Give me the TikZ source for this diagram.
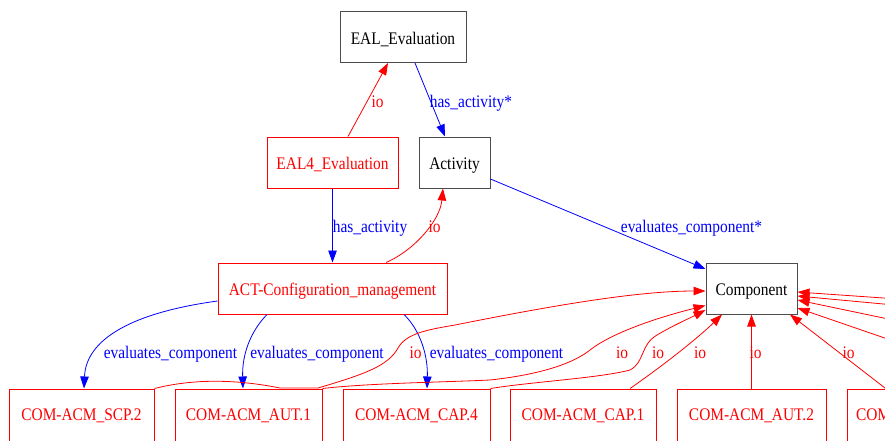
\documentclass[tikz,border=0pt]{standalone}
\usepackage{fontspec}
\setmainfont[FakeStretch=0.87]{Liberation Serif}
\usetikzlibrary{arrows.meta}
\begin{document}
\begin{tikzpicture}[x=1pt,y=-1pt,
  >={Triangle[length=12pt,width=8.5pt]},
  every node/.style={font=\fontsize{17.7}{20}\selectfont, inner sep=0pt},
  kbox/.style={draw=black!70, line width=1pt, minimum height=51pt, text height=14pt, text depth=0pt, text=black},
  rbox/.style={draw=red, line width=1pt, minimum height=51pt, text height=14pt, text depth=0pt, text=red},
  bbox/.style={draw=red, line width=1pt, minimum height=56pt, text height=6pt, text depth=0pt, text=red},
  bedge/.style={draw=blue, line width=0.8pt, ->},
  redge/.style={draw=red, line width=0.8pt, ->},
  blbl/.style={anchor=base, text=blue},
  rlbl/.style={anchor=base, text=red}]
\fill[white] (0,0) rectangle (885,440);
\useasboundingbox (0,0) rectangle (885,440);
\clip (0,0) rectangle (885,440);

% nodes
\node[kbox, minimum width=126pt] (eal) at (403,37) {EAL\_Evaluation};
\node[rbox, minimum width=131pt] (e4) at (332.5,162.5) {EAL4\_Evaluation};
\node[kbox, minimum width=71pt] (act) at (454.5,162.5) {Activity};
\node[rbox, minimum width=229pt] (acm) at (332.5,288.5) {ACT-Configuration\_management};
\node[kbox, minimum width=91pt] (comp) at (751.5,288.5) {Component};
\node[bbox, minimum width=145pt] (scp) at (81.5,417) {COM-ACM\_SCP.2};
\node[bbox, minimum width=147pt] (aut1) at (248.5,417) {COM-ACM\_AUT.1};
\node[bbox, minimum width=147pt] (cap4) at (416.5,417) {COM-ACM\_CAP.4};
\node[bbox, minimum width=146pt] (cap1) at (583,417) {COM-ACM\_CAP.1};
\node[bbox, minimum width=149pt] (aut2) at (751.5,417) {COM-ACM\_AUT.2};
\node[bbox, minimum width=146pt, text width=128pt, align=left] (com6) at (920,417) {COM};

% free ends of edges coming from outside the frame
\coordinate (r1) at (905,299.5);
\coordinate (r2) at (905,306);
\coordinate (r3) at (905,322.5);
\coordinate (r4) at (905,345);
\coordinate (r5) at (905,403.5);

% blue edges
\draw[bedge] ([xshift=12pt]eal.south) -- ([xshift=-9.5pt]act.north);
\draw[bedge] (e4.south) -- (acm.north);
\draw[bedge] ([yshift=-16.5pt]act.east) -- ([yshift=-6.5pt]comp.north west);
\draw[bedge] ([yshift=-12.5pt]acm.west) .. controls (130,313) and (86,340) .. ([xshift=2.5pt]scp.north);
\draw[bedge] ([xshift=-65.5pt]acm.south) .. controls (250,332) and (242,355) .. ([xshift=-5.5pt]aut1.north);
\draw[bedge] ([xshift=71.5pt]acm.south) .. controls (420,330) and (428,355) .. ([xshift=10.5pt]cap4.north);

% red edges
\draw[redge] ([xshift=15.5pt]e4.north) -- ([xshift=-15pt]eal.south);
\draw[redge] ([xshift=53.5pt]acm.north) .. controls (415,250) and (440,220) .. ([xshift=-11.5pt]act.south);
\draw[redge] (scp.north east) .. controls (200,377) and (245,381) .. (280,388) -- (318,388)
   .. controls (365,374) and (388,366) .. (398,348) .. controls (406,334) and (425,330) .. (455,325)
   .. controls (560,304) and (640,291) .. ([yshift=-2.5pt]comp.west);
\draw[redge] (aut1.north east) .. controls (370,383) and (450,382) .. (490,380)
   .. controls (545,374) and (575,362) .. (590,350) .. controls (605,338) and (640,322) .. ([yshift=-17pt]comp.west);
\draw[redge] (cap4.north east) .. controls (530,382) and (600,378) .. (630,370)
   .. controls (645,362) and (640,345) .. (657,335) .. controls (672,326) and (690,318) .. ([yshift=-21.5pt]comp.west);
\draw[redge] ([xshift=47pt]cap1.north) .. controls (668,362) and (700,336) .. ([xshift=-29.5pt]comp.south);
\draw[redge] (aut2.north) -- (comp.south);
\draw[redge] (r5) -- ([xshift=38.5pt]comp.south);
\draw[redge] (r1) -- ([yshift=-3.5pt]comp.east);
\draw[redge] (r2) -- ([yshift=-7.5pt]comp.east);
\draw[redge] (r3) -- ([yshift=-11.5pt]comp.east);
\draw[redge] (r4) -- ([yshift=-19.5pt]comp.east);

% labels
\node[rlbl] (l1) at (377.5,107) {io};
\node[blbl] (l2) at (471,107) {has\_activity*};
\node[blbl] (l3) at (370,232) {has\_activity};
\node[rlbl] (l4) at (434.5,232) {io};
\node[blbl] (l5) at (691.5,232) {evaluates\_component*};
\node[blbl] (l6) at (170.5,358) {evaluates\_component};
\node[blbl] (l7) at (317,358) {evaluates\_component};
\node[blbl] (l8) at (496.5,358) {evaluates\_component};
\node[rlbl] (l9) at (415.5,358) {io};
\node[rlbl] (l10) at (622,358) {io};
\node[rlbl] (l11) at (658,358) {io};
\node[rlbl] (l12) at (700,358) {io};
\node[rlbl] (l13) at (755.5,358) {io};
\node[rlbl] (l14) at (848.5,358) {io};
\end{tikzpicture}
\end{document}
